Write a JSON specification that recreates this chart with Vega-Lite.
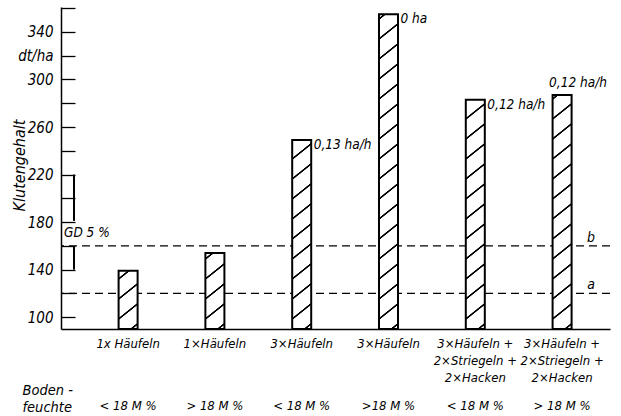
{
  "$schema": "https://vega.github.io/schema/vega-lite/v6.json",
  "width": 549,
  "height": 322,
  "autosize": {"type": "none"},
  "padding": {"left": 61, "top": 7, "right": 11, "bottom": 87},
  "background": "white",
  "config": {
    "view": {"stroke": null},
    "font": "DejaVu Sans Condensed, DejaVu Sans, sans-serif",
    "axis": {
      "labelFont": "DejaVu Sans Condensed, DejaVu Sans, sans-serif",
      "titleFont": "DejaVu Sans Condensed, DejaVu Sans, sans-serif",
      "labelFontStyle": "italic",
      "titleFontStyle": "italic",
      "titleFontWeight": "normal",
      "labelColor": "black",
      "titleColor": "black",
      "domainColor": "black",
      "tickColor": "black",
      "grid": false
    },
    "text": {"font": "DejaVu Sans Condensed, DejaVu Sans, sans-serif", "fontStyle": "italic", "color": "black"}
  },
  "datasets": {
    "ertrag": [
      {"nr": 1, "variante": "1x Häufeln|< 18 M %", "wert": 139, "leistung": ""},
      {"nr": 2, "variante": "1×Häufeln|> 18 M %", "wert": 154, "leistung": ""},
      {"nr": 3, "variante": "3×Häufeln|< 18 M %", "wert": 249, "leistung": "0,13 ha/h"},
      {"nr": 4, "variante": "3×Häufeln|>18 M %", "wert": 355, "leistung": "0 ha"},
      {"nr": 5, "variante": "3×Häufeln +|2×Striegeln +|2×Hacken|< 18 M %", "wert": 283, "leistung": "0,12 ha/h"},
      {"nr": 6, "variante": "3×Häufeln +|2×Striegeln +|2×Hacken|> 18 M %", "wert": 287, "leistung": "0,12 ha/h"}
    ],
    "grenzen": [{"linie": "b", "wert": 160}, {"linie": "a", "wert": 120}],
    "gd": [{"text": "GD 5 %", "von": 140, "bis": 220}]
  },
  "resolve": {"axis": {"x": "independent", "y": "independent"}},
  "layer": [
    {
      "data": {"name": "grenzen"},
      "mark": {"type": "rule", "strokeDash": [8, 5], "strokeWidth": 1.2, "color": "black"},
      "encoding": {
        "y": {"field": "wert", "type": "quantitative", "scale": {"domain": [90, 361], "nice": false, "zero": false},
          "axis": {"orient": "left", "values": [100, 120, 140, 160, 180, 200, 220, 240, 260, 280, 300, 320, 340, 360], "labelExpr": "datum.value == 320 ? 'dt/ha' : (datum.value % 40 == 0 ? '' : datum.label)", "labelOverlap": false, "labelFlush": false, "ticks": false, "labelPadding": 8, "labelFontSize": 15, "domainWidth": 1.5, "title": "Klutengehalt", "titleFontSize": 16, "titleX": -42, "titleY": 158, "titleAngle": 270, "titleAlign": "center", "titleBaseline": "middle"}}
      }
    },
    {
      "data": {"name": "grenzen"},
      "mark": {"type": "text", "fontSize": 14, "dx": 29, "dy": -8, "baseline": "middle", "align": "center"},
      "encoding": {
        "x": {"datum": "3×Häufeln +|2×Striegeln +|2×Hacken|> 18 M %", "type": "nominal", "scale": {"type": "band", "domain": ["1x Häufeln|< 18 M %", "1×Häufeln|> 18 M %", "3×Häufeln|< 18 M %", "3×Häufeln|>18 M %", "3×Häufeln +|2×Striegeln +|2×Hacken|< 18 M %", "3×Häufeln +|2×Striegeln +|2×Hacken|> 18 M %"], "paddingInner": 0.781, "paddingOuter": 0.553, "align": 0.6}, "axis": null},
        "y": {"field": "wert", "type": "quantitative", "scale": {"domain": [90, 361], "nice": false, "zero": false},
          "axis": {"orient": "right", "offset": -549, "values": [100, 120, 140, 160, 180, 200, 220, 240, 260, 280, 300, 320, 340, 360], "labels": false, "domain": false, "ticks": true, "tickSize": 14, "tickWidth": 1.3, "title": null}},
        "text": {"field": "linie"}
      }
    },
    {
      "data": {"name": "ertrag"},
      "mark": {"type": "bar", "stroke": "black", "strokeWidth": 2},
      "encoding": {
        "x": {"field": "variante", "type": "nominal", "sort": null, "scale": {"type": "band", "domain": ["1x Häufeln|< 18 M %", "1×Häufeln|> 18 M %", "3×Häufeln|< 18 M %", "3×Häufeln|>18 M %", "3×Häufeln +|2×Striegeln +|2×Hacken|< 18 M %", "3×Häufeln +|2×Striegeln +|2×Hacken|> 18 M %"], "paddingInner": 0.781, "paddingOuter": 0.553, "align": 0.6},
          "axis": {"orient": "bottom", "title": null, "labelAngle": 0, "ticks": false, "domainWidth": 1.5, "labelExpr": "slice(split(datum.label, '|'), 0, -1)", "labelPadding": 8, "labelLineHeight": 17, "labelFontSize": 13, "labelBaseline": "top", "labelAlign": "center"}},
        "y": {"field": "wert", "type": "quantitative", "scale": {"domain": [90, 361], "nice": false, "zero": false}, "axis": null},
        "y2": {"datum": 90},
        "fill": {
          "condition": [
            {"test": "datum.nr == 1", "value": {"gradient": "linear", "x1": 1.3158, "y1": 1, "x2": -0.1115, "y2": -4.4670, "stops": [
{"offset":0,"color":"#fff"},
{"offset":0.0252,"color":"#fff"},{"offset":0.0274,"color":"#000"},{"offset":0.0314,"color":"#000"},{"offset":0.0336,"color":"#fff"},
{"offset":0.0840,"color":"#fff"},{"offset":0.0862,"color":"#000"},{"offset":0.0902,"color":"#000"},{"offset":0.0924,"color":"#fff"},
{"offset":0.1429,"color":"#fff"},{"offset":0.1451,"color":"#000"},{"offset":0.1491,"color":"#000"},{"offset":0.1513,"color":"#fff"},
{"offset":0.2017,"color":"#fff"},{"offset":0.2039,"color":"#000"},{"offset":0.2079,"color":"#000"},{"offset":0.2101,"color":"#fff"},
{"offset":0.2605,"color":"#fff"},{"offset":0.2627,"color":"#000"},{"offset":0.2667,"color":"#000"},{"offset":0.2689,"color":"#fff"},
{"offset":0.3193,"color":"#fff"},{"offset":0.3215,"color":"#000"},{"offset":0.3255,"color":"#000"},{"offset":0.3277,"color":"#fff"},
{"offset":1,"color":"#fff"}]}},
            {"test": "datum.nr == 2", "value": {"gradient": "linear", "x1": 1.3158, "y1": 1, "x2": 0.4564, "y2": -3.2992, "stops": [
{"offset":0,"color":"#fff"},
{"offset":0.0252,"color":"#fff"},{"offset":0.0274,"color":"#000"},{"offset":0.0314,"color":"#000"},{"offset":0.0336,"color":"#fff"},
{"offset":0.0840,"color":"#fff"},{"offset":0.0862,"color":"#000"},{"offset":0.0902,"color":"#000"},{"offset":0.0924,"color":"#fff"},
{"offset":0.1429,"color":"#fff"},{"offset":0.1451,"color":"#000"},{"offset":0.1491,"color":"#000"},{"offset":0.1513,"color":"#fff"},
{"offset":0.2017,"color":"#fff"},{"offset":0.2039,"color":"#000"},{"offset":0.2079,"color":"#000"},{"offset":0.2101,"color":"#fff"},
{"offset":0.2605,"color":"#fff"},{"offset":0.2627,"color":"#000"},{"offset":0.2667,"color":"#000"},{"offset":0.2689,"color":"#fff"},
{"offset":0.3193,"color":"#fff"},{"offset":0.3215,"color":"#000"},{"offset":0.3255,"color":"#000"},{"offset":0.3277,"color":"#fff"},
{"offset":1,"color":"#fff"}]}},
            {"test": "datum.nr == 3", "value": {"gradient": "linear", "x1": 1.3158, "y1": 1, "x2": 1.1719, "y2": -0.7881, "stops": [
{"offset":0,"color":"#fff"},
{"offset":0.0252,"color":"#fff"},{"offset":0.0274,"color":"#000"},{"offset":0.0314,"color":"#000"},{"offset":0.0336,"color":"#fff"},
{"offset":0.0840,"color":"#fff"},{"offset":0.0862,"color":"#000"},{"offset":0.0902,"color":"#000"},{"offset":0.0924,"color":"#fff"},
{"offset":0.1429,"color":"#fff"},{"offset":0.1451,"color":"#000"},{"offset":0.1491,"color":"#000"},{"offset":0.1513,"color":"#fff"},
{"offset":0.2017,"color":"#fff"},{"offset":0.2039,"color":"#000"},{"offset":0.2079,"color":"#000"},{"offset":0.2101,"color":"#fff"},
{"offset":0.2605,"color":"#fff"},{"offset":0.2627,"color":"#000"},{"offset":0.2667,"color":"#000"},{"offset":0.2689,"color":"#fff"},
{"offset":0.3193,"color":"#fff"},{"offset":0.3215,"color":"#000"},{"offset":0.3255,"color":"#000"},{"offset":0.3277,"color":"#fff"},
{"offset":0.3782,"color":"#fff"},{"offset":0.3804,"color":"#000"},{"offset":0.3844,"color":"#000"},{"offset":0.3866,"color":"#fff"},
{"offset":0.4370,"color":"#fff"},{"offset":0.4392,"color":"#000"},{"offset":0.4432,"color":"#000"},{"offset":0.4454,"color":"#fff"},
{"offset":0.4958,"color":"#fff"},{"offset":0.4980,"color":"#000"},{"offset":0.5020,"color":"#000"},{"offset":0.5042,"color":"#fff"},
{"offset":0.5546,"color":"#fff"},{"offset":0.5568,"color":"#000"},{"offset":0.5608,"color":"#000"},{"offset":0.5630,"color":"#fff"},
{"offset":0.6134,"color":"#fff"},{"offset":0.6156,"color":"#000"},{"offset":0.6196,"color":"#000"},{"offset":0.6218,"color":"#fff"},
{"offset":0.6723,"color":"#fff"},{"offset":0.6745,"color":"#000"},{"offset":0.6785,"color":"#000"},{"offset":0.6807,"color":"#fff"},
{"offset":1,"color":"#fff"}]}},
            {"test": "datum.nr == 4", "value": {"gradient": "linear", "x1": 1.3158, "y1": 1, "x2": 1.2638, "y2": -0.0773, "stops": [
{"offset":0,"color":"#fff"},
{"offset":0.0252,"color":"#fff"},{"offset":0.0274,"color":"#000"},{"offset":0.0314,"color":"#000"},{"offset":0.0336,"color":"#fff"},
{"offset":0.0840,"color":"#fff"},{"offset":0.0862,"color":"#000"},{"offset":0.0902,"color":"#000"},{"offset":0.0924,"color":"#fff"},
{"offset":0.1429,"color":"#fff"},{"offset":0.1451,"color":"#000"},{"offset":0.1491,"color":"#000"},{"offset":0.1513,"color":"#fff"},
{"offset":0.2017,"color":"#fff"},{"offset":0.2039,"color":"#000"},{"offset":0.2079,"color":"#000"},{"offset":0.2101,"color":"#fff"},
{"offset":0.2605,"color":"#fff"},{"offset":0.2627,"color":"#000"},{"offset":0.2667,"color":"#000"},{"offset":0.2689,"color":"#fff"},
{"offset":0.3193,"color":"#fff"},{"offset":0.3215,"color":"#000"},{"offset":0.3255,"color":"#000"},{"offset":0.3277,"color":"#fff"},
{"offset":0.3782,"color":"#fff"},{"offset":0.3804,"color":"#000"},{"offset":0.3844,"color":"#000"},{"offset":0.3866,"color":"#fff"},
{"offset":0.4370,"color":"#fff"},{"offset":0.4392,"color":"#000"},{"offset":0.4432,"color":"#000"},{"offset":0.4454,"color":"#fff"},
{"offset":0.4958,"color":"#fff"},{"offset":0.4980,"color":"#000"},{"offset":0.5020,"color":"#000"},{"offset":0.5042,"color":"#fff"},
{"offset":0.5546,"color":"#fff"},{"offset":0.5568,"color":"#000"},{"offset":0.5608,"color":"#000"},{"offset":0.5630,"color":"#fff"},
{"offset":0.6134,"color":"#fff"},{"offset":0.6156,"color":"#000"},{"offset":0.6196,"color":"#000"},{"offset":0.6218,"color":"#fff"},
{"offset":0.6723,"color":"#fff"},{"offset":0.6745,"color":"#000"},{"offset":0.6785,"color":"#000"},{"offset":0.6807,"color":"#fff"},
{"offset":0.7311,"color":"#fff"},{"offset":0.7333,"color":"#000"},{"offset":0.7373,"color":"#000"},{"offset":0.7395,"color":"#fff"},
{"offset":0.7899,"color":"#fff"},{"offset":0.7921,"color":"#000"},{"offset":0.7961,"color":"#000"},{"offset":0.7983,"color":"#fff"},
{"offset":0.8487,"color":"#fff"},{"offset":0.8509,"color":"#000"},{"offset":0.8549,"color":"#000"},{"offset":0.8571,"color":"#fff"},
{"offset":0.9076,"color":"#fff"},{"offset":0.9098,"color":"#000"},{"offset":0.9138,"color":"#000"},{"offset":0.9160,"color":"#fff"},
{"offset":0.9664,"color":"#fff"},{"offset":0.9686,"color":"#000"},{"offset":0.9726,"color":"#000"},{"offset":0.9748,"color":"#fff"},
{"offset":1,"color":"#fff"}]}},
            {"test": "datum.nr == 5", "value": {"gradient": "linear", "x1": 1.3158, "y1": 1, "x2": 1.2180, "y2": -0.4762, "stops": [
{"offset":0,"color":"#fff"},
{"offset":0.0252,"color":"#fff"},{"offset":0.0274,"color":"#000"},{"offset":0.0314,"color":"#000"},{"offset":0.0336,"color":"#fff"},
{"offset":0.0840,"color":"#fff"},{"offset":0.0862,"color":"#000"},{"offset":0.0902,"color":"#000"},{"offset":0.0924,"color":"#fff"},
{"offset":0.1429,"color":"#fff"},{"offset":0.1451,"color":"#000"},{"offset":0.1491,"color":"#000"},{"offset":0.1513,"color":"#fff"},
{"offset":0.2017,"color":"#fff"},{"offset":0.2039,"color":"#000"},{"offset":0.2079,"color":"#000"},{"offset":0.2101,"color":"#fff"},
{"offset":0.2605,"color":"#fff"},{"offset":0.2627,"color":"#000"},{"offset":0.2667,"color":"#000"},{"offset":0.2689,"color":"#fff"},
{"offset":0.3193,"color":"#fff"},{"offset":0.3215,"color":"#000"},{"offset":0.3255,"color":"#000"},{"offset":0.3277,"color":"#fff"},
{"offset":0.3782,"color":"#fff"},{"offset":0.3804,"color":"#000"},{"offset":0.3844,"color":"#000"},{"offset":0.3866,"color":"#fff"},
{"offset":0.4370,"color":"#fff"},{"offset":0.4392,"color":"#000"},{"offset":0.4432,"color":"#000"},{"offset":0.4454,"color":"#fff"},
{"offset":0.4958,"color":"#fff"},{"offset":0.4980,"color":"#000"},{"offset":0.5020,"color":"#000"},{"offset":0.5042,"color":"#fff"},
{"offset":0.5546,"color":"#fff"},{"offset":0.5568,"color":"#000"},{"offset":0.5608,"color":"#000"},{"offset":0.5630,"color":"#fff"},
{"offset":0.6134,"color":"#fff"},{"offset":0.6156,"color":"#000"},{"offset":0.6196,"color":"#000"},{"offset":0.6218,"color":"#fff"},
{"offset":0.6723,"color":"#fff"},{"offset":0.6745,"color":"#000"},{"offset":0.6785,"color":"#000"},{"offset":0.6807,"color":"#fff"},
{"offset":0.7311,"color":"#fff"},{"offset":0.7333,"color":"#000"},{"offset":0.7373,"color":"#000"},{"offset":0.7395,"color":"#fff"},
{"offset":1,"color":"#fff"}]}},
            {"test": "datum.nr == 6", "value": {"gradient": "linear", "x1": 1.3158, "y1": 1, "x2": 1.2219, "y2": -0.4465, "stops": [
{"offset":0,"color":"#fff"},
{"offset":0.0252,"color":"#fff"},{"offset":0.0274,"color":"#000"},{"offset":0.0314,"color":"#000"},{"offset":0.0336,"color":"#fff"},
{"offset":0.0840,"color":"#fff"},{"offset":0.0862,"color":"#000"},{"offset":0.0902,"color":"#000"},{"offset":0.0924,"color":"#fff"},
{"offset":0.1429,"color":"#fff"},{"offset":0.1451,"color":"#000"},{"offset":0.1491,"color":"#000"},{"offset":0.1513,"color":"#fff"},
{"offset":0.2017,"color":"#fff"},{"offset":0.2039,"color":"#000"},{"offset":0.2079,"color":"#000"},{"offset":0.2101,"color":"#fff"},
{"offset":0.2605,"color":"#fff"},{"offset":0.2627,"color":"#000"},{"offset":0.2667,"color":"#000"},{"offset":0.2689,"color":"#fff"},
{"offset":0.3193,"color":"#fff"},{"offset":0.3215,"color":"#000"},{"offset":0.3255,"color":"#000"},{"offset":0.3277,"color":"#fff"},
{"offset":0.3782,"color":"#fff"},{"offset":0.3804,"color":"#000"},{"offset":0.3844,"color":"#000"},{"offset":0.3866,"color":"#fff"},
{"offset":0.4370,"color":"#fff"},{"offset":0.4392,"color":"#000"},{"offset":0.4432,"color":"#000"},{"offset":0.4454,"color":"#fff"},
{"offset":0.4958,"color":"#fff"},{"offset":0.4980,"color":"#000"},{"offset":0.5020,"color":"#000"},{"offset":0.5042,"color":"#fff"},
{"offset":0.5546,"color":"#fff"},{"offset":0.5568,"color":"#000"},{"offset":0.5608,"color":"#000"},{"offset":0.5630,"color":"#fff"},
{"offset":0.6134,"color":"#fff"},{"offset":0.6156,"color":"#000"},{"offset":0.6196,"color":"#000"},{"offset":0.6218,"color":"#fff"},
{"offset":0.6723,"color":"#fff"},{"offset":0.6745,"color":"#000"},{"offset":0.6785,"color":"#000"},{"offset":0.6807,"color":"#fff"},
{"offset":0.7311,"color":"#fff"},{"offset":0.7333,"color":"#000"},{"offset":0.7373,"color":"#000"},{"offset":0.7395,"color":"#fff"},
{"offset":1,"color":"#fff"}]}}
          ],
          "value": "white"
        }
      }
    },
    {
      "data": {"name": "ertrag"},
      "transform": [{"filter": "datum.nr >= 3 && datum.nr <= 5"}],
      "mark": {"type": "text", "align": "left", "baseline": "middle", "dx": 12, "dy": 5, "fontSize": 13.5},
      "encoding": {
        "x": {"field": "variante", "type": "nominal", "sort": null, "scale": {"type": "band", "domain": ["1x Häufeln|< 18 M %", "1×Häufeln|> 18 M %", "3×Häufeln|< 18 M %", "3×Häufeln|>18 M %", "3×Häufeln +|2×Striegeln +|2×Hacken|< 18 M %", "3×Häufeln +|2×Striegeln +|2×Hacken|> 18 M %"], "paddingInner": 0.781, "paddingOuter": 0.553, "align": 0.6},
          "axis": {"orient": "bottom", "domain": false, "ticks": false, "labelAngle": 0, "labelExpr": "peek(split(datum.label, '|'))", "labelPadding": 70, "labelFontSize": 13, "labelBaseline": "top", "labelAlign": "center", "title": ["Boden -", "feuchte"], "titleX": -39, "titleY": 54, "titleAlign": "left", "titleBaseline": "top", "titleAngle": 0, "titleLineHeight": 17, "titleFontSize": 14.5}},
        "y": {"field": "wert", "type": "quantitative", "scale": {"domain": [90, 361], "nice": false, "zero": false}, "axis": null},
        "text": {"field": "leistung"}
      }
    },
    {
      "data": {"name": "ertrag"},
      "transform": [{"filter": "datum.nr == 6"}],
      "mark": {"type": "text", "align": "left", "baseline": "bottom", "dx": -13, "dy": -5, "fontSize": 13.5},
      "encoding": {
        "x": {"field": "variante", "type": "nominal", "sort": null, "scale": {"type": "band", "domain": ["1x Häufeln|< 18 M %", "1×Häufeln|> 18 M %", "3×Häufeln|< 18 M %", "3×Häufeln|>18 M %", "3×Häufeln +|2×Striegeln +|2×Hacken|< 18 M %", "3×Häufeln +|2×Striegeln +|2×Hacken|> 18 M %"], "paddingInner": 0.781, "paddingOuter": 0.553, "align": 0.6}, "axis": null},
        "y": {"field": "wert", "type": "quantitative", "scale": {"domain": [90, 361], "nice": false, "zero": false}, "axis": null},
        "text": {"field": "leistung"}
      }
    },
    {
      "data": {"name": "gd"},
      "mark": {"type": "rule", "strokeWidth": 2, "color": "black"},
      "encoding": {
        "x": {"datum": "1x Häufeln|< 18 M %", "type": "nominal", "bandPosition": -2.347, "scale": {"type": "band", "domain": ["1x Häufeln|< 18 M %", "1×Häufeln|> 18 M %", "3×Häufeln|< 18 M %", "3×Häufeln|>18 M %", "3×Häufeln +|2×Striegeln +|2×Hacken|< 18 M %", "3×Häufeln +|2×Striegeln +|2×Hacken|> 18 M %"], "paddingInner": 0.781, "paddingOuter": 0.553, "align": 0.6}, "axis": null},
        "y": {"field": "bis", "type": "quantitative", "scale": {"domain": [90, 361], "nice": false, "zero": false}, "axis": null},
        "y2": {"datum": 181}
      }
    },
    {
      "data": {"name": "gd"},
      "mark": {"type": "rule", "strokeWidth": 2, "color": "black"},
      "encoding": {
        "x": {"datum": "1x Häufeln|< 18 M %", "type": "nominal", "bandPosition": -2.347, "scale": {"type": "band", "domain": ["1x Häufeln|< 18 M %", "1×Häufeln|> 18 M %", "3×Häufeln|< 18 M %", "3×Häufeln|>18 M %", "3×Häufeln +|2×Striegeln +|2×Hacken|< 18 M %", "3×Häufeln +|2×Striegeln +|2×Hacken|> 18 M %"], "paddingInner": 0.781, "paddingOuter": 0.553, "align": 0.6}, "axis": null},
        "y": {"field": "von", "type": "quantitative", "scale": {"domain": [90, 361], "nice": false, "zero": false}, "axis": null},
        "y2": {"datum": 159}
      }
    },
    {
      "data": {"name": "gd"},
      "mark": {"type": "text", "align": "left", "baseline": "middle", "dx": -10, "fontSize": 13.5},
      "encoding": {
        "x": {"datum": "1x Häufeln|< 18 M %", "type": "nominal", "bandPosition": -2.347, "scale": {"type": "band", "domain": ["1x Häufeln|< 18 M %", "1×Häufeln|> 18 M %", "3×Häufeln|< 18 M %", "3×Häufeln|>18 M %", "3×Häufeln +|2×Striegeln +|2×Hacken|< 18 M %", "3×Häufeln +|2×Striegeln +|2×Hacken|> 18 M %"], "paddingInner": 0.781, "paddingOuter": 0.553, "align": 0.6}, "axis": null},
        "y": {"datum": 170.5, "type": "quantitative", "scale": {"domain": [90, 361], "nice": false, "zero": false}, "axis": null},
        "text": {"field": "text"}
      }
    }
  ]
}
